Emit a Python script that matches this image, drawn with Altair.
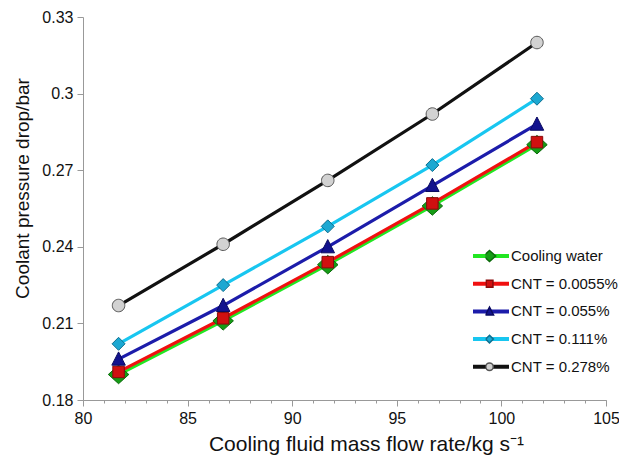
import altair as alt
import pandas as pd

# ---- data ----
flow_rate = [81.7, 86.7, 91.7, 96.7, 101.7]
series_names = ["Cooling water", "CNT = 0.0055%", "CNT = 0.055%", "CNT = 0.111%", "CNT = 0.278%"]
cooling_water = [0.190, 0.211, 0.233, 0.256, 0.280]
cnt_00055 = [0.191, 0.212, 0.234, 0.257, 0.281]
cnt_0055 = [0.196, 0.217, 0.240, 0.264, 0.288]
cnt_0111 = [0.202, 0.225, 0.248, 0.272, 0.298]
cnt_0278 = [0.217, 0.241, 0.266, 0.292, 0.320]

x_major_ticks = [80, 85, 90, 95, 100, 105]
x_minor_ticks = list(range(80, 106))
y_ticks = [0.18, 0.21, 0.24, 0.27, 0.30, 0.33]

# ---- styles ----
line_colors = ["#22e622", "#f01010", "#1c1caa", "#18c6f0", "#111111"]
marker_fill = ["#159c15", "#d01010", "#12128e", "#1ca8d2", "#d2d2d2"]
marker_edge = ["#0b6a0b", "#8a0a0a", "#0a0a60", "#0e7090", "#555555"]
# marker outlines (relative units; the mark size scales them)
marker_shapes = [
    "M0,-1.85L2.05,0L0,1.85L-2.05,0Z",                       # big diamond
    "M-1.15,-1.15H1.15V1.15H-1.15Z",                          # square
    "M0,-1.45L1.35,1.2H-1.35Z",                               # triangle
    "M0,-1.3L1.3,0L0,1.3L-1.3,0Z",                            # small diamond
    "M-1.25,0A1.25,1.25,0,1,1,1.25,0A1.25,1.25,0,1,1,-1.25,0Z",  # circle
]

values = [cooling_water, cnt_00055, cnt_0055, cnt_0111, cnt_0278]
rows = []
for i, (name, vals) in enumerate(zip(series_names, values)):
    for x, y in zip(flow_rate, vals):
        rows.append({"series": name, "order": i, "flow": x, "dp": y})
df = pd.DataFrame(rows)

FONT = "Liberation Sans"
x_scale = alt.Scale(domain=[80, 105], nice=False, zero=False)
y_scale = alt.Scale(domain=[0.18, 0.33], nice=False, zero=False)

LEG_X = 388
LEG_Y = 229


def marker_legend():
    return alt.Legend(
        title=None,
        orient="none",
        legendX=LEG_X + 14.5,
        legendY=LEG_Y,
        columns=1,
        symbolSize=36,
        symbolOpacity=1,
        clipHeight=20,
        rowPadding=7.7,
        padding=0,
        labelExpr="''",
        labelFontSize=8,
        labelFont=FONT,
    )


lines = alt.Chart(df).mark_line(strokeWidth=3.2).encode(
    x=alt.X(
        "flow:Q",
        scale=x_scale,
        axis=alt.Axis(
            orient="bottom",
            values=x_major_ticks,
            tickSize=6,
            labelFlush=False,
            labelPadding=4,
            title="Cooling fluid mass flow rate/kg s\u207b\u00b9",
            titleX=283,
            titleY=44,
            titleBaseline="middle",
            titleAlign="center",
        ),
    ),
    y=alt.Y(
        "dp:Q",
        scale=y_scale,
        axis=alt.Axis(
            values=y_ticks,
            format=".2~f",
            tickSize=6,
            labelPadding=4,
            title="Coolant pressure drop/bar",
            titleX=-61,
            titleY=171,
            titleBaseline="middle",
            titleAlign="center",
        ),
    ),
    stroke=alt.Stroke(
        "series:N",
        scale=alt.Scale(domain=series_names, range=line_colors),
        legend=alt.Legend(
            title=None,
            orient="none",
            legendX=LEG_X,
            legendY=LEG_Y,
            columns=1,
            symbolType="stroke",
            symbolSize=1296,
            symbolStrokeWidth=4,
            clipHeight=20,
            rowPadding=7.7,
            padding=0,
            labelOffset=0,
            labelFontSize=15,
            labelFont=FONT,
            labelColor="#111111",
        ),
    ),
    order="order:Q",
)

points = alt.Chart(df).mark_point(filled=True, opacity=1, strokeWidth=1, size=100).encode(
    x=alt.X(
        "flow:Q",
        scale=x_scale,
        axis=alt.Axis(
            orient="bottom",
            values=x_minor_ticks,
            labels=False,
            domain=False,
            tickSize=3,
            title=None,
        ),
    ),
    y=alt.Y("dp:Q", scale=y_scale),
    fill=alt.Fill(
        "series:N",
        scale=alt.Scale(domain=series_names, range=marker_fill),
        legend=marker_legend(),
    ),
    stroke=alt.Stroke(
        "series:N",
        scale=alt.Scale(domain=series_names, range=marker_edge),
        legend=marker_legend(),
    ),
    shape=alt.Shape(
        "series:N",
        scale=alt.Scale(domain=series_names, range=marker_shapes),
        legend=marker_legend(),
    ),
    order="order:Q",
)

chart = (
    alt.layer(lines, points)
    .resolve_scale(stroke="independent", fill="independent", shape="independent")
    .resolve_axis(x="independent")
    .properties(
        width=523,
        height=383,
        autosize=alt.AutoSizeParams(type="none"),
        padding={"left": 75, "top": 9, "right": 13, "bottom": 56},
    )
    .configure_view(stroke=None)
    .configure_axis(
        grid=False,
        domainColor="#999999",
        tickColor="#999999",
        labelFont=FONT,
        labelFontSize=16,
        labelColor="#111111",
        titleFont=FONT,
        titleFontSize=19,
        titleFontWeight="normal",
        titleColor="#111111",
    )
    .configure_axisX(titleFontSize=21)
)

chart.save("out.html", embed_options={"renderer": "svg", "actions": False})
